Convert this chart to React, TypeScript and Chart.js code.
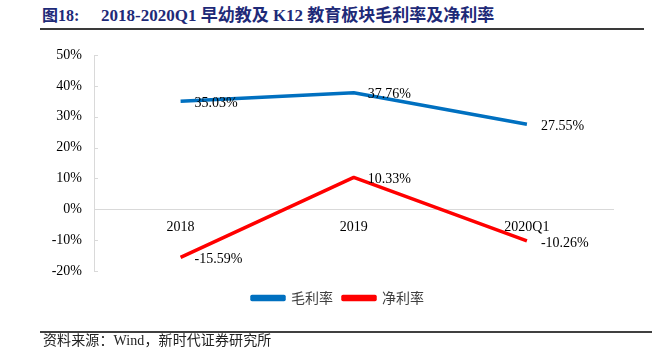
import React, { useEffect, useRef } from "react";
import { Chart, registerables } from "chart.js";

Chart.register(...registerables);

const categories = ["2018", "2019", "2020Q1"];
const grossMargin = [35.03, 37.76, 27.55];
const netMargin = [-15.59, 10.33, -10.26];
const yTicks = { min: -20, max: 50, step: 10 };

const figureNo = "图18:";
const titleText = "2018-2020Q1 早幼教及 K12 教育板块毛利率及净利率";
const sourceText = "资料来源：Wind，新时代证券研究所";

const SERIF = '"Liberation Serif", "Times New Roman", "Noto Sans CJK SC", serif';
const CJK = '"Noto Sans CJK SC", "Liberation Serif", sans-serif';

const dataLabelPlugin = {
  id: "dataLabels",
  afterDatasetsDraw(chart: any) {
    const ctx = chart.ctx;
    ctx.save();
    ctx.font = `14px ${SERIF}`;
    ctx.fillStyle = "#000";
    ctx.textAlign = "left";
    ctx.textBaseline = "middle";
    chart.data.datasets.forEach((ds: any, i: number) => {
      const meta = chart.getDatasetMeta(i);
      meta.data.forEach((pt: any, j: number) => {
        const v = ds.data[j];
        ctx.fillText(v.toFixed(2) + "%", pt.x + 14, pt.y + 2);
      });
    });
    ctx.restore();
  },
};

const innerTicksPlugin = {
  id: "innerTicks",
  afterDraw(chart: any) {
    const y = chart.scales.y;
    const ctx = chart.ctx;
    ctx.save();
    ctx.strokeStyle = "#d9d9d9";
    ctx.lineWidth = 1;
    y.ticks.forEach((t: any) => {
      const py = Math.round(y.getPixelForValue(t.value)) + 0.5;
      ctx.beginPath();
      ctx.moveTo(y.right, py);
      ctx.lineTo(y.right + 4, py);
      ctx.stroke();
    });
    ctx.restore();
  },
};

// shift the legend box so the legend row is centred like the reference
const legendShiftPlugin = {
  id: "legendShift",
  afterLayout(chart: any) {
    const l = chart.legend;
    if (l) {
      l.left += 62.5;
    }
  },
};

export default function App() {
  const ref = useRef<HTMLCanvasElement | null>(null);

  useEffect(() => {
    if (!ref.current) return;
    const chart = new Chart(ref.current, {
      type: "line",
      data: {
        labels: categories,
        datasets: [
          {
            label: "毛利率",
            data: grossMargin,
            borderColor: "#0070C0",
            backgroundColor: "#0070C0",
            borderWidth: 3.5,
            pointRadius: 0,
            tension: 0,
            borderJoinStyle: "round",
          },
          {
            label: "净利率",
            data: netMargin,
            borderColor: "#FF0000",
            backgroundColor: "#FF0000",
            borderWidth: 3.5,
            pointRadius: 0,
            tension: 0,
            borderJoinStyle: "round",
          },
        ],
      },
      options: {
        responsive: false,
        animation: false,
        devicePixelRatio: 1,
        layout: { padding: { left: 0, right: 38.5, top: 55, bottom: 38 } },
        plugins: {
          tooltip: { enabled: false },
          legend: {
            position: "bottom",
            labels: {
              boxWidth: 32,
              boxHeight: 3,
              padding: 10,
              color: "#404040",
              font: { family: CJK, size: 14 },
            },
          },
        },
        scales: {
          x: {
            type: "category",
            offset: true,
            position: { y: 0 } as any,
            grid: { display: false, drawTicks: false, offset: true },
            border: { display: true, color: "#d9d9d9", width: 1 },
            ticks: {
              color: "#000",
              padding: 10,
              maxRotation: 0,
              font: { family: SERIF, size: 14 },
            },
          },
          spacer: {
            type: "category",
            labels: categories,
            offset: true,
            position: "bottom",
            grid: { display: false, drawTicks: false },
            border: { display: false },
            ticks: { display: false },
            afterFit: (s: any) => {
              s.height = 10;
            },
          },
          y: {
            position: "left",
            min: yTicks.min,
            max: yTicks.max,
            grid: { display: false, drawTicks: false },
            border: { display: true, color: "#d9d9d9", width: 1 },
            ticks: {
              stepSize: yTicks.step,
              padding: 12,
              color: "#000",
              font: { family: SERIF, size: 14 },
              callback: (v: any) => v + "%",
            },
            afterFit: (s: any) => {
              s.width = 94;
            },
          },
        },
      },
      plugins: [dataLabelPlugin, innerTicksPlugin, legendShiftPlugin],
    });
    return () => chart.destroy();
  }, []);

  const titleStyle: React.CSSProperties = {
    position: "absolute",
    top: 5,
    height: 22,
    lineHeight: "22px",
    fontFamily: SERIF,
    fontWeight: "bold",
    fontSize: 17,
    color: "#1e2a78",
    whiteSpace: "nowrap",
  };

  return (
    <div
      style={{
        position: "absolute",
        left: 0,
        top: 0,
        width: 652,
        height: 353,
        background: "#fff",
        overflow: "hidden",
      }}
    >
      <div style={{ ...titleStyle, left: 42, fontSize: 16 }}>{figureNo}</div>
      <div style={{ ...titleStyle, left: 101 }}>{titleText}</div>
      <div
        style={{
          position: "absolute",
          left: 40,
          top: 28,
          width: 604,
          height: 2,
          background: "#3a3a3a",
        }}
      />
      <canvas
        ref={ref}
        width={652}
        height={353}
        style={{ position: "absolute", left: 0, top: 0, width: 652, height: 353 }}
      />
      <div
        style={{
          position: "absolute",
          left: 40,
          top: 331,
          width: 612,
          height: 1.5,
          background: "#404040",
        }}
      />
      <div
        style={{
          position: "absolute",
          left: 43,
          top: 332,
          height: 18,
          lineHeight: "18px",
          fontFamily: SERIF,
          fontSize: 14,
          letterSpacing: "0.1px",
          color: "#222",
          whiteSpace: "nowrap",
        }}
      >
        {sourceText}
      </div>
    </div>
  );
}
